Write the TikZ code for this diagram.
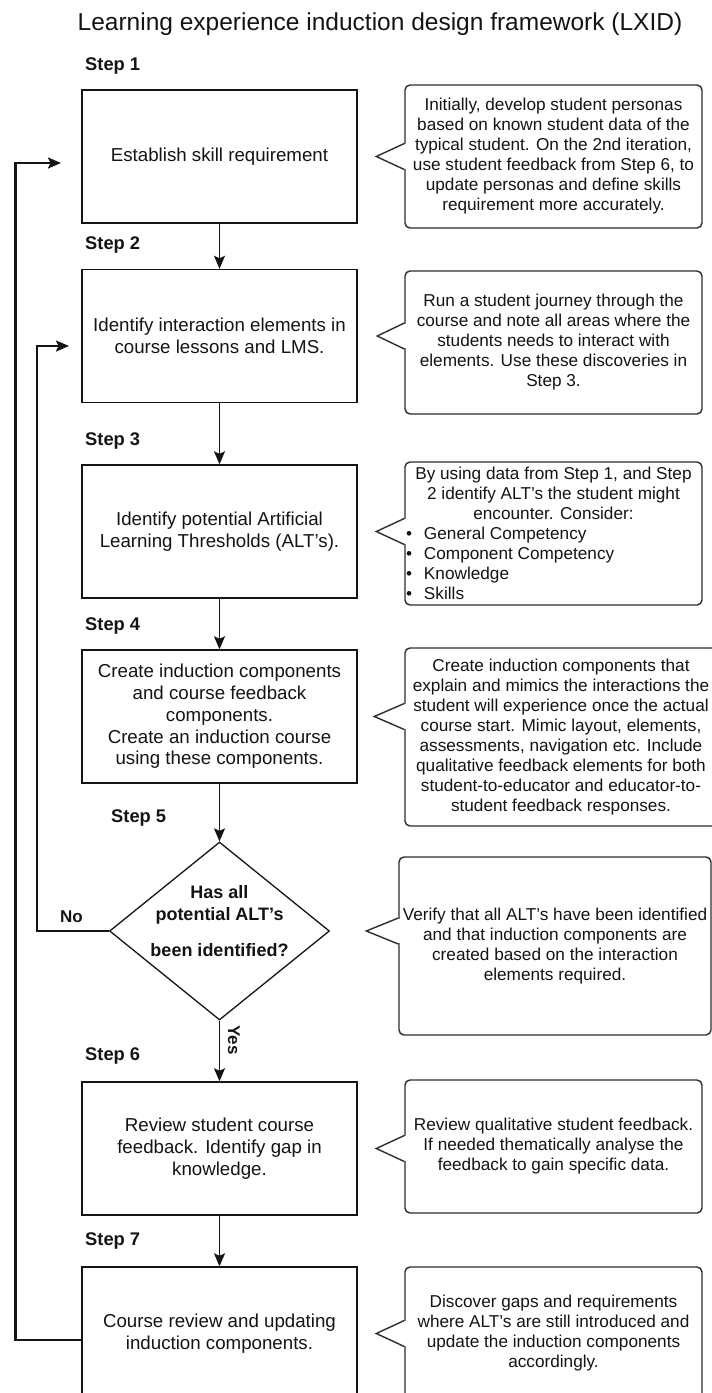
\documentclass[tikz,border=0pt]{standalone}
\usepackage{fontspec}
\setmainfont{Liberation Sans}
\usetikzlibrary{shapes.geometric,arrows.meta,calc}

\newcommand{\fsz}[2]{\fontsize{#1pt}{#2pt}\selectfont}
\definecolor{ink}{RGB}{20,20,20}
\definecolor{noteline}{RGB}{45,45,45}

% pointer of a speech-bubble note: note name, node it points at, pointer length
\newcommand{\calltail}[3]{%
  \fill[white] ($(#1.west |- #2.center)+(-1.3,-12.3)$) rectangle ($(#1.west |- #2.center)+(1.3,12.3)$);
  \draw[draw=noteline, line width=1.4pt, line join=miter]
    ($(#1.west |- #2.center)+(0,-13)$) -- ($(#1.west |- #2.center)+(-#3,0)$) -- ($(#1.west |- #2.center)+(0,13)$);
}

\begin{document}
\begin{tikzpicture}[x=1pt,y=-1pt,
  box/.style={draw=ink, line width=1.4pt, minimum width=275pt, minimum height=133pt,
    inner sep=0pt, align=center, text=ink, font={\fsz{18.7}{21.7}}},
  note/.style={draw=noteline, line width=1.4pt, rounded corners=5pt, fill=white,
    inner sep=0pt, align=center, text=ink, font={\fsz{17.2}{20}}},
  steplabel/.style={anchor=base west, inner sep=0pt, text=ink, font={\bfseries\fsz{18.3}{22}}},
  flow/.style={draw=ink, line width=1.5pt, -{Stealth[length=13pt,width=11pt,inset=2.5pt]}},
  loopline/.style={draw=ink, line width=2.2pt, -{Stealth[length=13pt,width=11pt,inset=2.5pt]}},
  edgelabel/.style={inner sep=0pt, text=ink, font={\bfseries\fsz{17}{20}}},
]
\path[use as bounding box, fill=white] (0,0) rectangle (712,1393);

% title
\node[anchor=base, inner sep=0pt, text=ink, font={\fsz{24.5}{29}}] (title) at (380,30)
  {Learning experience induction design framework (LXID)};

% step labels
\node[steplabel] (s1) at (85,70)   {Step 1};
\node[steplabel] (s2) at (85,249)  {Step 2};
\node[steplabel] (s3) at (85,445)  {Step 3};
\node[steplabel] (s4) at (85,630)  {Step 4};
\node[steplabel] (s5) at (111,822) {Step 5};
\node[steplabel] (s6) at (85,1060) {Step 6};
\node[steplabel] (s7) at (85,1245) {Step 7};

% process boxes
\node[box] (b1) at (219.5,156.5) {Establish skill requirement};
\node[box] (b2) at (219.5,336) {Identify interaction elements in\\course lessons and LMS.};
\node[box] (b3) at (219.5,531.5) {Identify potential Artificial\\Learning Thresholds (ALT's).};
\node[box] (b4) at (219.5,716.5) {Create induction components\\and course feedback\\components.\\Create an induction course\\using these components.};
\node[box] (b6) at (219.5,1148.5) {Review student course\\feedback. Identify gap in\\knowledge.};
\node[box] (b7) at (219.5,1333.5) {Course review and updating\\induction components.};

% decision
\node[draw=ink, shape=diamond, line width=1.3pt, minimum width=220pt, minimum height=178pt,
  aspect=1.236, inner sep=0pt] (d) at (219.5,931) {};
\node[inner sep=0pt, align=center, text=ink, font={\bfseries\fsz{18}{22.5}}] (dt) at (219.5,921)
  {Has all\\potential ALT's\\[13pt]been identified?};

% notes
\node[note, minimum width=297pt, minimum height=143pt] (c1) at (553.5,156.5)
  {Initially, develop student personas\\based on known student data of the\\typical student. On the 2nd iteration,\\use student feedback from Step 6, to\\update personas and define skills\\requirement more accurately.};
\node[note, minimum width=297pt, minimum height=143pt] (c2) at (553.5,342.5)
  {Run a student journey through the\\course and note all areas where the\\students needs to interact with\\elements. Use these discoveries in\\Step 3.};
\node[note, minimum width=297pt, minimum height=143pt] (c3) at (553.5,533.5)
  {\parbox{297pt}{\centering By using data from Step 1, and Step\\2 identify ALT's the student might\\encounter. Consider:\par
   \raggedright
   \hspace*{1pt}\makebox[18pt][l]{\textbullet}General Competency\\
   \hspace*{1pt}\makebox[18pt][l]{\textbullet}Component Competency\\
   \hspace*{1pt}\makebox[18pt][l]{\textbullet}Knowledge\\
   \hspace*{1pt}\makebox[18pt][l]{\textbullet}Skills}};
\node[note, minimum width=312pt, minimum height=178pt] (c4) at (561,737)
  {Create induction components that\\explain and mimics the interactions the\\student will experience once the actual\\course start. Mimic layout, elements,\\assessments, navigation etc. Include\\qualitative feedback elements for both\\student-to-educator and educator-to-\\student feedback responses.};
\node[note, minimum width=312pt, minimum height=178pt] (c5) at (555,946)
  {Verify that all ALT's have been identified\\and that induction components are\\created based on the interaction\\elements required.};
\node[note, minimum width=297pt, minimum height=133pt] (c6) at (553.5,1146.5)
  {Review qualitative student feedback.\\If needed thematically analyse the\\feedback to gain specific data.};
\node[note, minimum width=297pt, minimum height=133pt] (c7) at (553.5,1333.5)
  {Discover gaps and requirements\\where ALT's are still introduced and\\update the induction components\\accordingly.};

\calltail{c1}{b1}{28}
\calltail{c2}{b2}{27}
\calltail{c3}{b3}{28}
\calltail{c4}{b4}{30}
\calltail{c5}{d}{32}
\calltail{c6}{b6}{28}
\calltail{c7}{b7}{28}

% main flow
\draw[flow] (b1.south) -- (b2.north);
\draw[flow] (b2.south) -- (b3.north);
\draw[flow] (b3.south) -- (b4.north);
\draw[flow] (b4.south) -- (d.north);
\draw[flow] (d.south) -- (b6.north);
\draw[flow] (b6.south) -- (b7.north);

\node[edgelabel, rotate=-90] (yes) at (234,1040) {Yes};
\node[edgelabel] (no) at (71.5,917) {No};

% feedback loops
\coordinate (outerTop) at (15.5,163);
\coordinate (outerEnd) at (61,163);
\draw[loopline] ($(b7.west)+(0,6.5)$) -| (outerTop) -- (outerEnd);

\coordinate (innerTop) at (37,346);
\coordinate (innerEnd) at (69,346);
\draw[loopline] (d.west) -| (innerTop) -- (innerEnd);
\end{tikzpicture}
\end{document}
